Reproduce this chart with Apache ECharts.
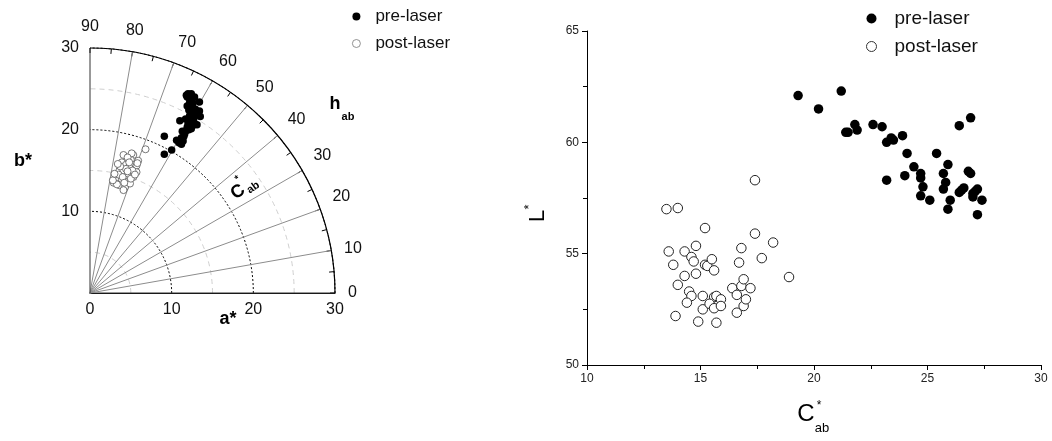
<!DOCTYPE html>
<html>
<head>
<meta charset="utf-8">
<script src="https://cdn.jsdelivr.net/npm/echarts@6/dist/echarts.min.js"></script>
<style>
html,body{margin:0;padding:0;background:#fff;}
#chart{width:1052px;height:441px;}
</style>
</head>
<body>
<div id="chart"></div>
<script>
// ---- Left panel: a*, b* (CIELAB chromatic plane) ----
var preA  = [9.1,9.1,10.0,10.6,10.9,11.2,11.4,11.0,11.6,11.8,11.9,12.0,12.2,12.6,12.4,12.8,12.5,13.0,13.4,13.5,12.9,12.3,12.6,13.4,12.2,11.8,12.4,12.0,12.8,12.2,11.9,12.1,11.7,12.4,11.5,11.3,12.7,13.1,11.9,12.5,12.1,11.2];
var preB  = [19.2,17.0,17.5,18.7,18.4,18.2,18.6,21.1,19.5,19.9,20.3,20.7,21.7,20.5,21.0,20.8,21.9,22.0,22.3,21.6,22.5,22.8,23.2,23.4,23.8,24.2,24.4,24.4,24.0,23.3,22.9,22.4,21.3,20.1,19.2,19.8,21.4,20.6,24.0,23.6,20.0,19.0];
var postA = [6.8,4.1,5.3,5.0,5.9,3.9,4.4,5.5,4.8,5.7,3.6,4.1,4.7,5.7,5.3,3.2,3.9,4.5,2.9,3.6,4.3,4.9,4.1,3.3,2.8,5.1,4.6,3.5,4.0,5.0,4.4,5.2,3.7,4.8,3.0,4.2,5.5,3.4,4.6,5.8];
var postB = [17.6,16.9,16.9,16.3,16.2,16.0,15.7,15.7,15.4,15.6,15.0,15.0,14.6,14.8,14.2,14.1,13.9,13.6,13.5,13.2,13.0,13.4,12.6,13.3,13.8,17.1,16.6,14.5,14.2,14.0,15.2,15.0,15.5,16.0,14.6,13.5,14.5,15.8,14.9,15.9];
var abTicks = [0,10,20,30];
var hueTicks = [0,10,20,30,40,50,60,70,80,90];

// ---- Right panel: C*ab vs L* ----
var preC  = [19.3,21.2,20.2,21.4,21.5,21.8,21.9,22.6,23.0,23.2,23.4,23.5,23.9,24.1,23.2,24.0,24.4,24.7,24.7,24.8,24.7,25.1,25.4,25.9,25.7,25.8,25.7,26.0,25.9,26.4,26.9,26.4,26.5,26.6,26.8,26.9,27.0,27.0,27.1,27.2,27.2,27.4];
var preL  = [62.1,62.3,61.5,60.45,60.45,60.8,60.55,60.8,60.7,60.0,60.2,60.1,60.3,59.5,58.3,58.5,58.9,58.6,58.4,58.0,57.6,57.4,59.5,59.0,58.6,58.2,57.9,57.4,57.0,60.75,61.1,57.75,57.85,57.95,58.7,58.6,57.7,57.55,57.8,57.9,56.75,57.4];
var postC = [13.5,14.0,17.4,15.2,13.6,13.8,14.3,14.6,14.7,14.8,14.3,14.8,14.0,14.5,14.6,14.4,13.9,14.9,15.1,15.1,15.2,15.3,15.5,15.6,15.6,15.7,15.9,15.4,15.6,15.9,15.7,16.4,16.6,16.6,16.9,17.0,16.8,16.9,17.2,16.7,16.8,17.4,17.7,18.2,18.9];
var postL = [57.0,57.05,58.3,56.15,55.1,54.5,55.1,54.85,54.65,55.35,54.0,54.1,53.6,53.3,53.1,52.8,52.2,51.95,53.1,52.5,54.5,54.45,54.75,54.25,53.05,53.1,52.95,52.75,52.55,52.65,51.9,53.45,53.15,52.35,52.65,52.95,53.55,53.85,53.45,54.6,55.25,55.9,54.8,55.5,53.95];
var cTicks = [10,15,20,25,30];
var lTicks = [50,55,60,65];
var seriesNames = ['pre-laser','post-laser'];

function zip(a,b){ return a.map(function(v,i){ return [v,b[i]]; }); }

var FONT = 'Arial, "Liberation Sans", sans-serif';
var chart = echarts.init(document.getElementById('chart'), null, {renderer:'canvas'});

var deg = Math.PI/180;
var option = {
  animation:false,
  textStyle:{fontFamily:FONT},
  grid:[
    {left:90, top:48, width:245, height:245},
    {left:587, top:31, width:454, height:334}
  ],
  xAxis:[
    {gridIndex:0, type:'value', min:abTicks[0], max:abTicks[abTicks.length-1], interval:10,
     axisLine:{show:false}, axisTick:{show:false}, splitLine:{show:false},
     axisLabel:{fontSize:16, color:'#111', margin:9, fontFamily:FONT}},
    {gridIndex:1, type:'value', min:cTicks[0], max:cTicks[cTicks.length-1], interval:5,
     axisLine:{lineStyle:{color:'#000',width:1}},
     axisTick:{inside:false,length:5,lineStyle:{color:'#000'}},
     minorTick:{show:true,splitNumber:2,length:4,lineStyle:{color:'#000'}},
     splitLine:{show:false},
     axisLabel:{fontSize:12,color:'#222',margin:8,fontFamily:FONT}}
  ],
  yAxis:[
    {gridIndex:0, type:'value', min:abTicks[0], max:abTicks[abTicks.length-1], interval:10,
     axisLine:{show:false}, axisTick:{show:false}, splitLine:{show:false},
     axisLabel:{fontSize:16, color:'#111', margin:11, fontFamily:FONT,
       formatter:function(v){ return v===0 ? '' : String(v); }}},
    {gridIndex:1, type:'value', min:lTicks[0], max:lTicks[lTicks.length-1], interval:5,
     axisLine:{lineStyle:{color:'#000',width:1}},
     axisTick:{inside:false,length:5,lineStyle:{color:'#000'}},
     minorTick:{show:true,splitNumber:2,length:4,lineStyle:{color:'#000'}},
     splitLine:{show:false},
     axisLabel:{fontSize:12,color:'#222',margin:8,fontFamily:FONT}}
  ],
  polar:[
    {center:[90,293], radius:245},
    {center:[90,293], radius:245}
  ],
  angleAxis:[
    {polarIndex:0, type:'value', min:hueTicks[0], max:hueTicks[hueTicks.length-1], interval:10,
     startAngle:0, endAngle:90, clockwise:false, z:3,
     axisLine:{show:true, lineStyle:{color:'#000', width:1.2}},
     axisTick:{show:true, inside:true, length:5, lineStyle:{color:'#000'}},
     minorTick:{show:true, splitNumber:2, length:5, lineStyle:{color:'#000'}},
     splitLine:{show:true, lineStyle:{color:['#333','#8c8c8c','#8c8c8c','#8c8c8c','#8c8c8c','#8c8c8c','#8c8c8c','#8c8c8c','#8c8c8c','#333'], width:1}},
     axisLabel:{show:true, fontSize:16, color:'#111', margin:13, fontFamily:FONT}},
    {polarIndex:1, type:'value', min:hueTicks[0], max:hueTicks[hueTicks.length-1], interval:10,
     startAngle:0, endAngle:90, clockwise:false, z:1,
     axisLine:{show:false}, axisTick:{show:false}, axisLabel:{show:false}, splitLine:{show:false}}
  ],
  radiusAxis:[
    {polarIndex:0, type:'value', min:abTicks[0], max:abTicks[abTicks.length-1], interval:10, z:2,
     axisLine:{show:true, lineStyle:{color:'#000', width:1.2}},
     axisTick:{show:false}, axisLabel:{show:false},
     splitLine:{show:true, lineStyle:{color:'#000', width:1, type:[2,2]}}},
    {polarIndex:1, type:'value', min:abTicks[0], max:abTicks[abTicks.length-1], interval:5, z:1,
     axisLine:{show:false}, axisTick:{show:false}, axisLabel:{show:false},
     splitLine:{show:true, lineStyle:{color:['rgba(0,0,0,0)','#cfcfcf'], width:1, type:[5,4]}}}
  ],
  legend:[
    {orient:'vertical', left:347, top:3, itemWidth:28, itemHeight:8, itemGap:10,
     textStyle:{fontSize:17, color:'#111', fontFamily:FONT},
     data:[{name:seriesNames[0], icon:'circle', itemStyle:{color:'#000', borderWidth:0}},
           {name:seriesNames[1], icon:'circle', itemStyle:{color:'#fff', borderColor:'#777', borderWidth:0.8}}]},
    {orient:'vertical', left:861, top:4, itemWidth:36, itemHeight:10, itemGap:9,
     textStyle:{fontSize:19, color:'#111', fontFamily:FONT},
     data:[{name:seriesNames[0], icon:'circle', itemStyle:{color:'#000', borderWidth:0}},
           {name:seriesNames[1], icon:'circle', itemStyle:{color:'#fff', borderColor:'#333', borderWidth:1}}]}
  ],
  series:[
    {name:seriesNames[0], type:'scatter', xAxisIndex:0, yAxisIndex:0, z:5, symbol:'circle', symbolSize:7.5,
     itemStyle:{color:'#000', opacity:1}, data:zip(preA,preB)},
    {name:seriesNames[1], type:'scatter', xAxisIndex:0, yAxisIndex:0, z:5, symbol:'circle', symbolSize:7,
     itemStyle:{color:'#fff', borderColor:'#555', borderWidth:0.8, opacity:1}, data:zip(postA,postB)},
    {name:seriesNames[0], type:'scatter', xAxisIndex:1, yAxisIndex:1, z:5, symbol:'circle', symbolSize:9.5,
     itemStyle:{color:'#000', opacity:1}, data:zip(preC,preL)},
    {name:seriesNames[1], type:'scatter', xAxisIndex:1, yAxisIndex:1, z:5, symbol:'circle', symbolSize:9.5,
     itemStyle:{color:'#fff', borderColor:'#222', borderWidth:1, opacity:1}, data:zip(postC,postL)},
    {type:'scatter', coordinateSystem:'polar', polarIndex:0, data:[], silent:true},
    {type:'scatter', coordinateSystem:'polar', polarIndex:1, data:[], silent:true}
  ],
  graphic:[
    {type:'text', x:23, y:161, style:{text:'b*', font:'bold 18px '+FONT, fill:'#000', textAlign:'center', textVerticalAlign:'middle'}},
    {type:'text', x:228, y:319, style:{text:'a*', font:'bold 18px '+FONT, fill:'#000', textAlign:'center', textVerticalAlign:'middle'}},
    {type:'text', x:335, y:104, style:{text:'h', font:'bold 18px '+FONT, fill:'#000', textAlign:'center', textVerticalAlign:'middle'}},
    {type:'text', x:348, y:117, style:{text:'ab', font:'bold 11px '+FONT, fill:'#000', textAlign:'center', textVerticalAlign:'middle'}},
    {type:'group', x:238, y:192, rotation:35*deg, children:[
      {type:'text', x:0, y:0, style:{text:'C', font:'bold 18px '+FONT, fill:'#000', textAlign:'center', textVerticalAlign:'middle'}},
      {type:'text', x:7, y:-11, style:{text:'*', font:'bold 10px '+FONT, fill:'#000', textAlign:'center', textVerticalAlign:'middle'}},
      {type:'text', x:15, y:5, style:{text:'ab', font:'bold 11px '+FONT, fill:'#000', textAlign:'center', textVerticalAlign:'middle'}}
    ]},
    {type:'group', x:538, y:216, rotation:90*deg, children:[
      {type:'text', x:0, y:0, style:{text:'L', font:'22px '+FONT, fill:'#000', textAlign:'center', textVerticalAlign:'middle'}},
      {type:'text', x:9, y:-9, style:{text:'*', font:'13px '+FONT, fill:'#000', textAlign:'center', textVerticalAlign:'middle'}}
    ]},
    {type:'text', x:806, y:414, style:{text:'C', font:'24px '+FONT, fill:'#000', textAlign:'center', textVerticalAlign:'middle'}},
    {type:'text', x:819, y:406, style:{text:'*', font:'12px '+FONT, fill:'#000', textAlign:'center', textVerticalAlign:'middle'}},
    {type:'text', x:822, y:428, style:{text:'ab', font:'13px '+FONT, fill:'#000', textAlign:'center', textVerticalAlign:'middle'}}
  ]
};
chart.setOption(option);
</script>
</body>
</html>
